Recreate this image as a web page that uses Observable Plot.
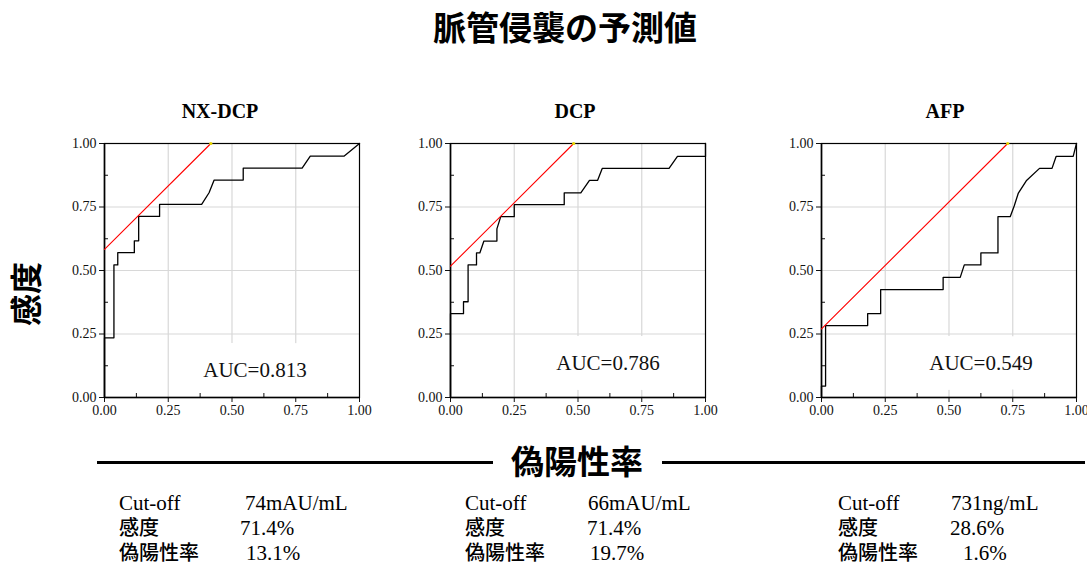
<!DOCTYPE html>
<html>
<head>
<meta charset="utf-8">
<script src="https://cdn.jsdelivr.net/npm/d3@7"></script>
<script src="https://cdn.jsdelivr.net/npm/@observablehq/plot@0.6"></script>
<style>
  html, body { margin: 0; padding: 0; background: #fff; }
  #page { position: relative; width: 1087px; height: 565px; overflow: hidden; background: #fff; }
  .panel { position: absolute; }
  #overlay { position: absolute; left: 0; top: 0; }
</style>
</head>
<body>
<div id="page"></div>
<script>
// ---- data ----
const chartTitle = "脈管侵襲の予測値";
const yTitle = "感度";
const xTitle = "偽陽性率";
const markers = ["NX-DCP", "DCP", "AFP"];
const aucValues = [0.813, 0.786, 0.549];
const cutoffs = ["74mAU/mL", "66mAU/mL", "731ng/mL"];
const sensitivity = [71.4, 71.4, 28.6];   // %
const falsePositive = [13.1, 19.7, 1.6];  // %
const rowLabels = ["Cut-off", "感度", "偽陽性率"];

const nxdcpFpr  = [0, 0, 0.037, 0.037, 0.052, 0.052, 0.117, 0.117, 0.134, 0.134, 0.216, 0.216, 0.381, 0.41, 0.43, 0.544, 0.544, 0.775, 0.807, 0.939, 1];
const nxdcpSens = [0, 0.235, 0.235, 0.522, 0.522, 0.570, 0.570, 0.617, 0.617, 0.713, 0.713, 0.760, 0.760, 0.806, 0.856, 0.856, 0.903, 0.903, 0.95, 0.95, 1];

const dcpFpr  = [0, 0, 0.051, 0.051, 0.069, 0.069, 0.102, 0.102, 0.115, 0.131, 0.182, 0.182, 0.197, 0.25, 0.25, 0.446, 0.446, 0.511, 0.545, 0.577, 0.595, 0.857, 0.89, 1, 1];
const dcpSens = [0, 0.33, 0.33, 0.377, 0.377, 0.522, 0.522, 0.569, 0.569, 0.616, 0.616, 0.664, 0.712, 0.712, 0.759, 0.759, 0.806, 0.806, 0.855, 0.855, 0.902, 0.902, 0.949, 0.949, 1];

const afpFpr  = [0, 0, 0.016, 0.016, 0.181, 0.181, 0.232, 0.232, 0.477, 0.477, 0.544, 0.56, 0.625, 0.625, 0.692, 0.692, 0.74, 0.756, 0.772, 0.803, 0.855, 0.904, 0.92, 0.987, 1];
const afpSens = [0, 0.045, 0.045, 0.283, 0.283, 0.33, 0.33, 0.425, 0.425, 0.473, 0.473, 0.522, 0.522, 0.569, 0.569, 0.712, 0.712, 0.755, 0.805, 0.853, 0.902, 0.902, 0.949, 0.949, 1];

const majorTicks = [0, 0.25, 0.5, 0.75, 1];
const minorTicks = [0.125, 0.375, 0.625, 0.875];
const gridTicks = [0.25, 0.5, 0.75];

// ---- layout ----
const W = 1087, H = 565;
const page = document.getElementById("page");
const curves = [[nxdcpFpr, nxdcpSens], [dcpFpr, dcpSens], [afpFpr, afpSens]];
const frameLefts = [104, 450, 821];
const frameTop = 143;
const mL = 45, mR = 10, mT = 10, mB = 30, fw = 255, fh = 254;
const aucDx = [23, 30, 32];
const aucDy = [-21, -28, -28];
const serif = "'Liberation Serif', 'Times New Roman', 'Noto Sans CJK JP', serif";
const cjk = "'Noto Sans CJK JP', 'Noto Sans CJK SC', sans-serif";

curves.forEach(([fpr, sens], i) => {
  const pts = fpr.map((x, k) => ({x, y: sens[k]}));
  const J = sensitivity[i] / 100 - falsePositive[i] / 100;
  const youden = [{x: 0, y: J}, {x: 1 - J, y: 1}];
  const svg = Plot.plot({
    width: fw + mL + mR,
    height: fh + mT + mB,
    marginLeft: mL, marginRight: mR, marginTop: mT, marginBottom: mB,
    x: {domain: [0, 1]},
    y: {domain: [0, 1]},
    style: {fontFamily: serif, fontSize: "14px", color: "#111", background: "white", overflow: "visible"},
    marks: [
      Plot.gridX(gridTicks, {stroke: "#d8d8d8", strokeOpacity: 1, strokeWidth: 1.2}),
      Plot.gridY(gridTicks, {stroke: "#d8d8d8", strokeOpacity: 1, strokeWidth: 1.2}),
      Plot.text([aucValues[i]], {
        frameAnchor: "bottom", dx: aucDx[i], dy: aucDy[i], lineAnchor: "bottom",
        text: d => "AUC=" + d3.format(".3f")(d),
        fontSize: 21, fontFamily: serif, fill: "#111",
        stroke: "white", strokeWidth: 40, strokeLinejoin: "round"
      }),
      Plot.axisX(majorTicks, {tickFormat: d3.format(".2f"), tickSize: 5, tickPadding: 3, label: null, stroke: "#111"}),
      Plot.axisX(minorTicks, {tickFormat: () => "", tickSize: 4, dy: -4, label: null, stroke: "#111"}),
      Plot.axisY(majorTicks, {tickFormat: d3.format(".2f"), tickSize: 5, tickPadding: 3, label: null, stroke: "#111"}),
      Plot.axisY(minorTicks, {tickFormat: () => "", tickSize: 4, dx: 4, label: null, stroke: "#111"}),
      Plot.frame({stroke: "black", strokeWidth: 1.2}),
      Plot.ruleX([0], {stroke: "black", strokeWidth: 1.6}),
      Plot.ruleY([0], {stroke: "black", strokeWidth: 1.6}),
      Plot.line(pts, {x: "x", y: "y", stroke: "black", strokeWidth: 1.3}),
      Plot.line(youden, {x: "x", y: "y", stroke: "red", strokeWidth: 1.1}),
      Plot.dot(youden.slice(1), {x: "x", y: "y", r: 1.6, fill: "#e8d800", stroke: "none"})
    ]
  });
  const div = document.createElement("div");
  div.className = "panel";
  div.style.left = (frameLefts[i] - mL) + "px";
  div.style.top = (frameTop - mT) + "px";
  div.appendChild(svg);
  page.appendChild(div);
});

// ---- overlay text ----
const ov = d3.select(page).append("svg").attr("id", "overlay")
  .attr("width", W).attr("height", H).style("pointer-events", "none");

ov.append("text").text(chartTitle)
  .attr("x", 565).attr("y", 40).attr("text-anchor", "middle")
  .style("font-family", cjk).style("font-weight", 700).style("font-size", "33px").attr("fill", "#000");

const titleCx = [220, 575, 945];
markers.forEach((m, i) => {
  ov.append("text").text(m).attr("x", titleCx[i]).attr("y", 118).attr("text-anchor", "middle")
    .style("font-family", serif).style("font-weight", 700).style("font-size", "20px").attr("fill", "#000");
});

ov.append("text").text(yTitle)
  .attr("transform", "translate(38,294) rotate(-90)").attr("text-anchor", "middle")
  .style("font-family", cjk).style("font-weight", 700).style("font-size", "32px").attr("fill", "#000");

ov.append("text").text(xTitle).attr("x", 577).attr("y", 474).attr("text-anchor", "middle")
  .style("font-family", cjk).style("font-weight", 700).style("font-size", "33px").attr("fill", "#000");
ov.append("line").attr("x1", 97).attr("x2", 493).attr("y1", 462.5).attr("y2", 462.5).attr("stroke", "#000").attr("stroke-width", 3.2);
ov.append("line").attr("x1", 662).attr("x2", 1085).attr("y1", 462.5).attr("y2", 462.5).attr("stroke", "#000").attr("stroke-width", 3.2);

const labelX = [119, 465, 838];
const valueX = [[245, 240, 246], [588, 587, 590], [951, 950, 963]];
const rowY = [510, 535, 560];
markers.forEach((m, i) => {
  const vals = [cutoffs[i], sensitivity[i].toFixed(1) + "%", falsePositive[i].toFixed(1) + "%"];
  rowLabels.forEach((lab, r) => {
    const isCjk = r > 0;
    ov.append("text").text(lab).attr("x", labelX[i]).attr("y", rowY[r])
      .style("font-family", isCjk ? cjk : serif).style("font-size", isCjk ? "20px" : "21px")
      .style("font-weight", isCjk ? 500 : 400).attr("fill", "#000");
    ov.append("text").text(vals[r]).attr("x", valueX[i][r]).attr("y", rowY[r])
      .style("font-family", serif).style("font-size", "21px").attr("fill", "#000");
  });
});
</script>
</body>
</html>
